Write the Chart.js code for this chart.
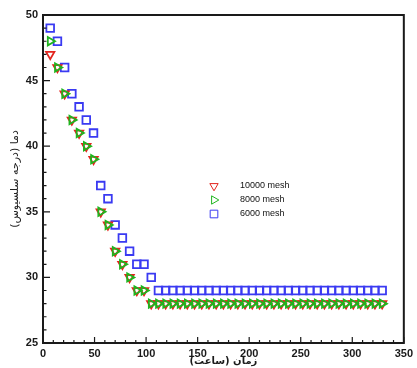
<!DOCTYPE html>
<html lang="fa">
<head>
  <meta charset="UTF-8" />
  <title>Mesh study - temperature vs time</title>
  <script src="https://cdn.jsdelivr.net/npm/chart.js"></script>
  <style>
    body { margin: 0; background: #fff; }
    canvas { display: block; }
  </style>
</head>
<body>
  <canvas id="meshChart" width="417" height="368"></canvas>

<script>
// time (hours)
const hours = [7, 14, 21, 28, 35, 42, 49, 56, 63, 70, 77, 84, 91, 98, 105, 112, 119, 126, 133, 140,
  147, 154, 161, 168, 175, 182, 189, 196, 203, 210, 217, 224, 231, 238, 245, 252, 259, 266, 273, 280,
  287, 294, 301, 308, 315, 322, 329];

// temperature (deg C) per mesh
const mesh10000 = [47, 46, 44, 42, 41, 40, 39, 35, 34, 32, 31, 30, 29, 29, 28, 28, 28, 28, 28, 28,
  28, 28, 28, 28, 28, 28, 28, 28, 28, 28, 28, 28, 28, 28, 28, 28, 28, 28, 28, 28,
  28, 28, 28, 28, 28, 28, 28];
const mesh8000 = [48, 46, 44, 42, 41, 40, 39, 35, 34, 32, 31, 30, 29, 29, 28, 28, 28, 28, 28, 28,
  28, 28, 28, 28, 28, 28, 28, 28, 28, 28, 28, 28, 28, 28, 28, 28, 28, 28, 28, 28,
  28, 28, 28, 28, 28, 28, 28];
const mesh6000 = [49, 48, 46, 44, 43, 42, 41, 37, 36, 34, 33, 32, 31, 31, 30, 29, 29, 29, 29, 29,
  29, 29, 29, 29, 29, 29, 29, 29, 29, 29, 29, 29, 29, 29, 29, 29, 29, 29, 29, 29,
  29, 29, 29, 29, 29, 29, 29];

const xTickLabels = [0, 50, 100, 150, 200, 250, 300, 350];
const yTickLabels = [25, 30, 35, 40, 45, 50];
const seriesNames = ['10000 mesh', '8000 mesh', '6000 mesh'];

const xTitle = 'زمان (ساعت)';
const yTitle = 'دما (درجه سلسیوس)';

const FONT = "'Liberation Sans', Arial, 'DejaVu Sans', sans-serif";
const INK = '#1a1a1a';

const toPoints = arr => hours.map((h, i) => ({ x: h, y: arr[i] }));

const styles = [
  { color: '#e3261f', pointStyle: 'triangle', rotation: 180, radius: 4.8 },
  { color: '#1fb51f', pointStyle: 'triangle', rotation: 90, radius: 4.8 },
  { color: '#3a3af2', pointStyle: 'rect', rotation: 0, radius: 5.4 }
];

function makeSet(i, arr, order) {
  const s = styles[i];
  return {
    label: seriesNames[i],
    data: toPoints(arr),
    showLine: false,
    order: order,
    pointStyle: s.pointStyle,
    rotation: s.rotation,
    radius: s.radius,
    hoverRadius: s.radius,
    borderColor: s.color,
    backgroundColor: 'rgba(0,0,0,0)',
    borderWidth: 1.8
  };
}

// inward ticks + box frame
const frameTicks = {
  id: 'frameTicks',
  afterDraw(chart) {
    const { ctx, chartArea: a, scales: { x, y } } = chart;
    ctx.save();
    ctx.strokeStyle = INK;
    ctx.lineWidth = 1.2;
    ctx.beginPath();
    for (let v = 0; v <= 350; v += 10) {
      const px = x.getPixelForValue(v);
      const len = v % 50 === 0 ? 6 : 3;
      ctx.moveTo(px, a.bottom);
      ctx.lineTo(px, a.bottom - len);
    }
    for (let v = 25; v <= 50; v += 1) {
      const py = y.getPixelForValue(v);
      const len = v % 5 === 0 ? 7 : 3.5;
      ctx.moveTo(a.left, py);
      ctx.lineTo(a.left + len, py);
    }
    ctx.stroke();
    ctx.lineWidth = 2;
    ctx.strokeRect(a.left, a.top, a.right - a.left, a.bottom - a.top);
    ctx.restore();
  }
};

// legend placed inside the plot
const insideLegend = {
  id: 'insideLegend',
  afterDraw(chart) {
    const { ctx } = chart;
    const rows = [186, 200, 214];
    ctx.save();
    ctx.font = '9px ' + FONT;
    ctx.textBaseline = 'middle';
    ctx.textAlign = 'left';
    rows.forEach((ry, i) => {
      const s = styles[i];
      ctx.strokeStyle = s.color;
      ctx.fillStyle = 'rgba(0,0,0,0)';
      Chart.helpers.drawPoint(ctx, {
        pointStyle: s.pointStyle, rotation: s.rotation, radius: s.radius, borderWidth: 2
      }, 214, ry);
      ctx.fillStyle = '#111';
      ctx.fillText(seriesNames[i], 240, ry);
    });
    ctx.restore();
  }
};

new Chart(document.getElementById('meshChart'), {
  type: 'scatter',
  data: {
    datasets: [
      makeSet(1, mesh8000, 0),
      makeSet(0, mesh10000, 1),
      makeSet(2, mesh6000, 2)
    ]
  },
  options: {
    responsive: false,
    animation: false,
    events: [],
    layout: { padding: { top: 15, right: 7, left: 0, bottom: 0 } },
    plugins: {
      legend: { display: false },
      tooltip: { enabled: false }
    },
    scales: {
      x: {
        type: 'linear',
        min: 0,
        max: 350,
        afterBuildTicks: s => { s.ticks = xTickLabels.map(v => ({ value: v })); },
        afterFit: s => { s.height = 25; },
        grid: { display: false, drawTicks: false },
        border: { display: false },
        ticks: {
          autoSkip: false,
          maxRotation: 0,
          padding: 4,
          color: INK,
          font: { family: FONT, size: 11, weight: 'bold' }
        },
        title: {
          display: true,
          text: xTitle,
          color: INK,
          padding: { top: 0, bottom: 1 },
          font: { family: "'DejaVu Sans', sans-serif", size: 10, weight: 'bold' }
        }
      },
      y: {
        type: 'linear',
        min: 25,
        max: 50,
        afterBuildTicks: s => { s.ticks = yTickLabels.map(v => ({ value: v })); },
        afterFit: s => { s.width = 43; },
        grid: { display: false, drawTicks: false },
        border: { display: false },
        ticks: {
          autoSkip: false,
          padding: 5,
          color: INK,
          font: { family: FONT, size: 11, weight: 'bold' }
        },
        title: {
          display: true,
          text: yTitle,
          color: '#222',
          padding: { top: 9, bottom: 0 },
          font: { family: "'DejaVu Sans', sans-serif", size: 11 }
        }
      }
    }
  },
  plugins: [frameTicks, insideLegend]
});
</script>
</body>
</html>
